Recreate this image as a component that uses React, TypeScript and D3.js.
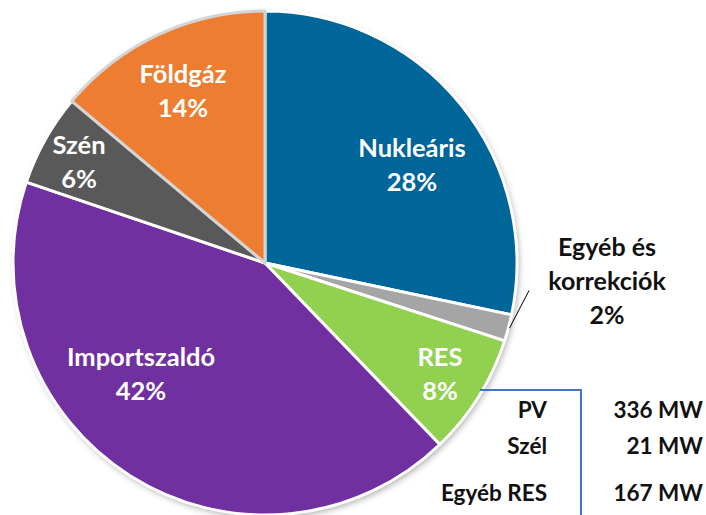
import React from "react";
import * as d3 from "d3";

const categories = ["Nukleáris", "Egyéb és korrekciók", "RES", "Importszaldó", "Szén", "Földgáz"];
const values = [28.3, 1.7, 7.8, 42.4, 5.9, 13.9];
const percentLabels = ["28%", "2%", "8%", "42%", "6%", "14%"];
const colors = ["#006598", "#A5A5A5", "#92D050", "#7030A0", "#595959", "#ED7D31"];
const resNames = ["PV", "Szél", "Egyéb RES"];
const resValues = [336, 21, 167];

// layout (label anchor points, in px)
const labelLayout: { lines: string[]; x: number; y: number; color: string }[] = [
  { lines: ["Nukleáris", "28%"], x: 412, y: 150, color: "#fff" },
  { lines: ["Egyéb és", "korrekciók", "2%"], x: 607, y: 250, color: "#111" },
  { lines: ["RES", "8%"], x: 440, y: 359, color: "#fff" },
  { lines: ["Importszaldó", "42%"], x: 141, y: 359, color: "#fff" },
  { lines: ["Szén", "6%"], x: 79, y: 147, color: "#fff" },
  { lines: ["Földgáz", "14%"], x: 183, y: 76, color: "#fff" },
];

export default function App() {
  const W = 706, H = 515;
  const cx = 265, cy = 263, r = 252;
  const pie = d3.pie<number>().sort(null).value((d) => d)(values);
  const arc = d3.arc<d3.PieArcDatum<number>>().innerRadius(0).outerRadius(r);
  const font = "Lato, 'Open Sans', sans-serif";
  const lh = 34;
  const egy = pie[1];
  const egyMid = (egy.startAngle + egy.endAngle) / 2;
  const p0 = [cx + Math.sin(egyMid) * (r + 1), cy - Math.cos(egyMid) * (r + 1)];
  const p1 = [cx + Math.sin(egyMid) * (r + 14) + 7, cy - Math.cos(egyMid) * (r + 14) - 41];
  const resLabel = labelLayout[2];
  const rowY = d3.scaleOrdinal<string, number>().domain(resNames).range([412, 448, 495]);
  return (
    <div style={{ position: "absolute", left: 0, top: 0 }}>
      <svg width={W} height={H} style={{ display: "block" }}>
        <defs>
          <filter id="sh" x="-10%" y="-10%" width="130%" height="130%">
            <feDropShadow dx="2" dy="3" stdDeviation="3" floodColor="#000" floodOpacity="0.3" />
          </filter>
        </defs>
        <g transform={`translate(${cx},${cy})`}>
          <circle r={r} fill="#fff" filter="url(#sh)" />
          {pie.map((d, i) => (
            <path
              key={i}
              d={arc(d) || ""}
              fill={colors[i]}
              stroke={i === 5 ? "#D4D4D4" : "#fff"}
              strokeWidth={3}
              strokeLinejoin="round"
            />
          ))}
        </g>
        <line x1={p0[0]} y1={p0[1]} x2={p1[0]} y2={p1[1]} stroke="#000" strokeWidth={1} />
        {labelLayout.map((l, i) => (
          <text key={i} x={l.x} y={l.y} textAnchor="middle" fill={l.color} fontFamily={font} fontWeight={700} fontSize={i === 1 ? 25 : 25.5}>
            {l.lines.map((t, j) => (
              <tspan key={j} x={l.x} y={l.y + j * lh} dominantBaseline="middle">
                {t}
              </tspan>
            ))}
          </text>
        ))}
        <polyline
          points={`${resLabel.x + 40},${resLabel.y + 31} 581,${resLabel.y + 31} 581,${H}`}
          fill="none"
          stroke="#4472C4"
          strokeWidth={2}
        />
        {resNames.map((n, i) => (
          <g key={n}>
            <text x={547} y={rowY(n)} textAnchor="end" dominantBaseline="middle" fontFamily={font} fontWeight={700} fontSize={22.5} fill="#111">
              {n}
            </text>
            <text x={703} y={rowY(n)} textAnchor="end" dominantBaseline="middle" fontFamily={font} fontWeight={700} fontSize={22.5} fill="#111">
              {`${resValues[i]} MW`}
            </text>
          </g>
        ))}
      </svg>
    </div>
  );
}
